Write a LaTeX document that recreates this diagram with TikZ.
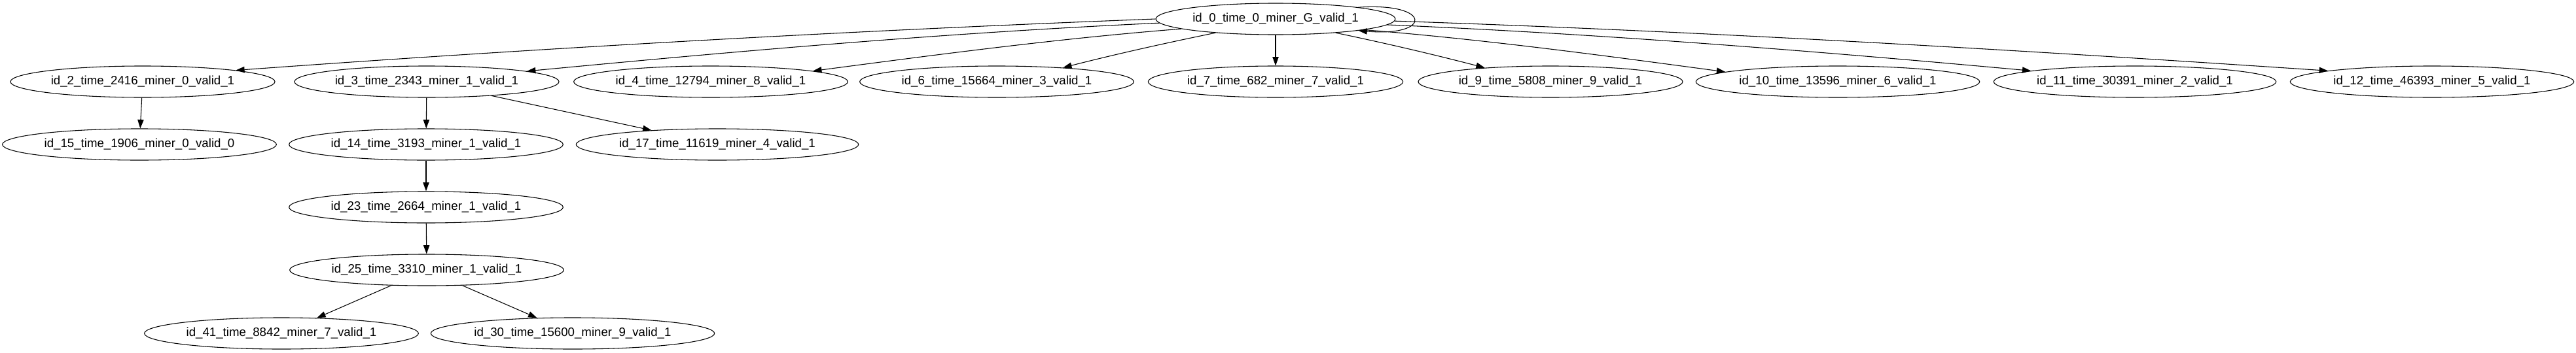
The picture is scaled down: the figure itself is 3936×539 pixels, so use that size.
\documentclass[tikz,border=0pt]{standalone}
\usepackage{fontspec}
\setmainfont{Liberation Sans}
\usetikzlibrary{arrows.meta,shapes.geometric}
\begin{document}
\begin{tikzpicture}[x=0.7495pt,y=-0.7495pt,
  gv/.style={ellipse, draw, line width=0.8pt, font=\fontsize{14}{16}\selectfont,
    inner xsep=2pt, inner ysep=1pt, minimum height=36pt},
  arr/.style={draw, line width=0.8pt, -{Triangle[length=10pt,width=7pt]}}]
\useasboundingbox (0,0) rectangle (3936,539);
% rank 0
\node[gv] (id0) at (1949,29) {id\_0\_time\_0\_miner\_G\_valid\_1};
% rank 1
\node[gv] (id2)  at (218,125)  {id\_2\_time\_2416\_miner\_0\_valid\_1};
\node[gv] (id3)  at (652,125)  {id\_3\_time\_2343\_miner\_1\_valid\_1};
\node[gv] (id4)  at (1086,125) {id\_4\_time\_12794\_miner\_8\_valid\_1};
\node[gv] (id6)  at (1523,125) {id\_6\_time\_15664\_miner\_3\_valid\_1};
\node[gv] (id7)  at (1949,125) {id\_7\_time\_682\_miner\_7\_valid\_1};
\node[gv] (id9)  at (2369,125) {id\_9\_time\_5808\_miner\_9\_valid\_1};
\node[gv] (id10) at (2808,125) {id\_10\_time\_13596\_miner\_6\_valid\_1};
\node[gv] (id11) at (3262,125) {id\_11\_time\_30391\_miner\_2\_valid\_1};
\node[gv] (id12) at (3716,125) {id\_12\_time\_46393\_miner\_5\_valid\_1};
% rank 2
\node[gv] (id15) at (213,221)  {id\_15\_time\_1906\_miner\_0\_valid\_0};
\node[gv] (id14) at (651,221)  {id\_14\_time\_3193\_miner\_1\_valid\_1};
\node[gv] (id17) at (1096,221) {id\_17\_time\_11619\_miner\_4\_valid\_1};
% rank 3
\node[gv] (id23) at (651,317)  {id\_23\_time\_2664\_miner\_1\_valid\_1};
% rank 4
\node[gv] (id25) at (652,413)  {id\_25\_time\_3310\_miner\_1\_valid\_1};
% rank 5
\node[gv] (id41) at (430,510)  {id\_41\_time\_8842\_miner\_7\_valid\_1};
\node[gv] (id30) at (875,510)  {id\_30\_time\_15600\_miner\_9\_valid\_1};
% edges from id0
\draw[arr] (id0.180) .. controls +(-467,18) and +(467,-34) .. (id2.7);
\draw[arr] (id0.182) .. controls +(-326,15) and +(326,-31) .. (id3.6);
\draw[arr] (id0.186) .. controls +(-190,15) and +(190,-25) .. (id4.6);
\draw[arr] (id0.193) .. controls +(-78,16) and +(78,-20) .. (id6.12);
\draw[arr] (id0.270) -- (id7.90);
\draw[arr] (id0.347) .. controls +(77,16) and +(-77,-20) .. (id9.168);
\draw[arr] (id0.353) .. controls +(186,15) and +(-186,-25) .. (id10.175);
\draw[arr] (id0.357) .. controls +(328,14) and +(-328,-30) .. (id11.174);
\draw[arr] (id0.359) .. controls +(476,16) and +(-476,-32) .. (id12.174);
\draw[arr] (id0.8) .. controls +(113,-8) and +(113,10) .. (id0.-8);
% lower edges
\draw[arr] (id2) -- (id15);
\draw[arr] (id3) -- (id14);
\draw[arr] (id3) -- (id17);
\draw[arr] (id14) -- (id23);
\draw[arr] (id23) -- (id25);
\draw[arr] (id25) -- (id41);
\draw[arr] (id25) -- (id30);
\end{tikzpicture}
\end{document}
